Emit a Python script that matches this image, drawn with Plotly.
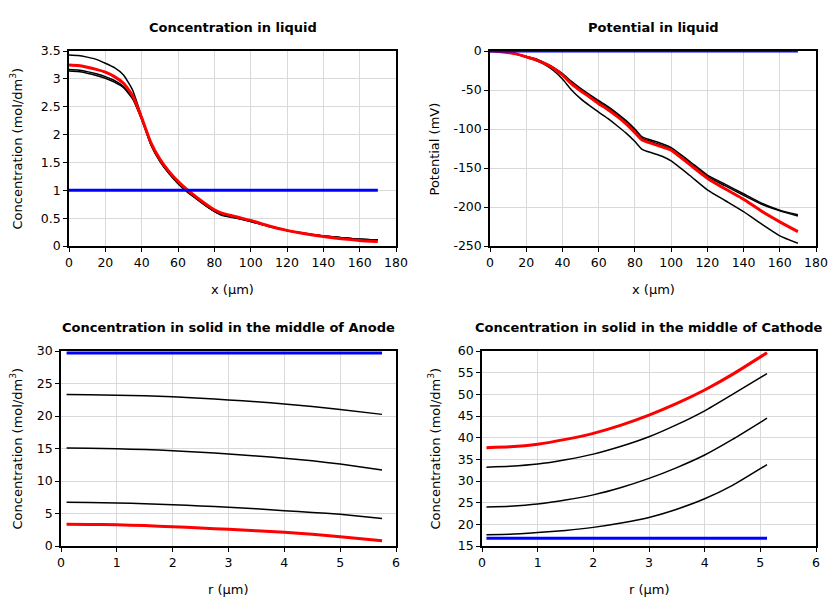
import plotly.graph_objects as go

# ---------------- data ----------------
x_liq = [0, 5, 10, 15, 20, 25, 30, 35, 40, 45, 50, 55, 60, 65, 70, 75, 80, 84, 90, 95, 100,
         110, 120, 130, 140, 150, 160, 170]

c_liq_t0 = [1.0] * len(x_liq)
c_liq_t1 = [3.17, 3.16, 3.13, 3.09, 3.04, 2.97, 2.86, 2.66, 2.28, 1.84, 1.54, 1.32, 1.14, 0.99,
            0.86, 0.74, 0.63, 0.57, 0.53, 0.49, 0.45, 0.36, 0.28, 0.23, 0.18, 0.15, 0.12, 0.11]
c_liq_t2 = [3.14, 3.13, 3.10, 3.06, 3.01, 2.94, 2.84, 2.64, 2.27, 1.83, 1.53, 1.31, 1.13, 0.98,
            0.85, 0.73, 0.62, 0.56, 0.52, 0.48, 0.44, 0.35, 0.28, 0.22, 0.18, 0.15, 0.12, 0.11]
c_liq_t3 = [3.43, 3.42, 3.39, 3.35, 3.28, 3.20, 3.07, 2.80, 2.32, 1.82, 1.52, 1.30, 1.12, 0.97,
            0.85, 0.73, 0.62, 0.55, 0.51, 0.48, 0.44, 0.35, 0.28, 0.22, 0.18, 0.15, 0.12, 0.11]
c_liq_end = [3.25, 3.24, 3.21, 3.17, 3.12, 3.04, 2.92, 2.70, 2.30, 1.86, 1.56, 1.34, 1.16, 1.01,
             0.88, 0.76, 0.65, 0.59, 0.54, 0.50, 0.46, 0.36, 0.28, 0.22, 0.17, 0.13, 0.10, 0.08]

p_liq_t0 = [0.0] * len(x_liq)
p_liq_t1 = [0, -0.5, -2, -4, -7, -10, -15, -21, -29, -39, -48, -56, -63.5, -71, -79.5, -89, -100,
            -110, -115, -119, -124, -141, -159, -171, -183, -195, -204, -210]
p_liq_t2 = [0, -0.5, -2, -4, -7, -10.5, -15.5, -22, -30, -40.5, -49.5, -57.5, -65.5, -73, -81.5,
            -91, -102, -112, -117, -121, -126, -143, -161, -173, -185, -196.5, -205, -211.5]
p_liq_t3 = [0, -0.5, -2, -4.5, -8, -12, -17, -25, -36, -50, -61, -70, -78.5, -86.5, -95.5, -105,
            -116, -126, -131, -135, -141, -159, -178, -192, -206, -222, -237, -246.5]
p_liq_end = [0, -0.5, -2, -4, -7.5, -11, -16, -22, -31, -42, -51, -59, -67.5, -75, -83.5, -93,
             -104.5, -114, -119, -123, -127, -145, -163, -177, -190, -205.5, -219, -231.5]

r_an = [0.1, 0.5, 1, 1.5, 2, 2.5, 3, 3.5, 4, 4.5, 5, 5.75]
c_an_t0 = [29.7] * len(r_an)
c_an_t1 = [23.3, 23.28, 23.2, 23.1, 22.97, 22.75, 22.46, 22.2, 21.85, 21.45, 21.0, 20.25]
c_an_t2 = [15.08, 15.05, 14.95, 14.83, 14.67, 14.43, 14.15, 13.85, 13.5, 13.1, 12.6, 11.7]
c_an_t3 = [6.72, 6.7, 6.62, 6.5, 6.36, 6.17, 5.95, 5.72, 5.44, 5.17, 4.87, 4.25]
c_an_end = [3.33, 3.32, 3.27, 3.14, 2.97, 2.78, 2.56, 2.34, 2.1, 1.8, 1.44, 0.82]

r_ca = [0.08, 0.5, 1, 1.5, 2, 2.5, 3, 3.5, 4, 4.5, 5.12]
c_ca_t0 = [16.8] * len(r_ca)
c_ca_t1 = [17.6, 17.7, 18.1, 18.6, 19.3, 20.3, 21.6, 23.5, 25.9, 29.0, 33.8]
c_ca_t2 = [24.0, 24.2, 24.7, 25.6, 26.8, 28.5, 30.6, 33.1, 36.0, 39.6, 44.5]
c_ca_t3 = [33.2, 33.4, 33.9, 34.9, 36.2, 38.0, 40.2, 43.0, 46.2, 50.0, 54.8]
c_ca_end = [37.7, 37.9, 38.5, 39.6, 41.0, 42.9, 45.2, 47.9, 51.0, 54.6, 59.6]

# tick values / labels
x_liq_ticks = [0, 20, 40, 60, 80, 100, 120, 140, 160, 180]
c_liq_ticks = [0, 0.5, 1, 1.5, 2, 2.5, 3, 3.5]
c_liq_ticklabels = ["0", "0.5", "1", "1.5", "2", "2.5", "3", "3.5"]
p_ticks = [-250, -200, -150, -100, -50, 0]
p_ticklabels = ["-250", "-200", "-150", "-100", "-50", "0"]
r_ticks = [0, 1, 2, 3, 4, 5, 6]
c_an_ticks = [0, 5, 10, 15, 20, 25, 30]
c_ca_ticks = [15, 20, 25, 30, 35, 40, 45, 50, 55, 60]

titles = ["Concentration in liquid", "Potential in liquid",
          "Concentration in solid in the middle of Anode",
          "Concentration in solid in the middle of Cathode"]
x_titles = ["x (µm)", "x (µm)", "r (µm)", "r (µm)"]
y_titles = ["Concentration (mol/dm<sup>3</sup>)", "Potential (mV)",
            "Concentration (mol/dm<sup>3</sup>)", "Concentration (mol/dm<sup>3</sup>)"]

# ---------------- figure ----------------
fig = go.Figure()
BLACK = "#000000"
RED = "#ff0000"
BLUE = "#0000ff"


def add_set(x, ys_black, y_red, y_blue, xa, ya):
    for yb in ys_black:
        fig.add_trace(go.Scatter(x=x, y=yb, mode="lines",
                                 line=dict(color=BLACK, width=1.5, shape="spline", smoothing=0.5),
                                 xaxis=xa, yaxis=ya, showlegend=False, hoverinfo="skip"))
    fig.add_trace(go.Scatter(x=x, y=y_red, mode="lines",
                             line=dict(color=RED, width=3, shape="spline", smoothing=0.5),
                             xaxis=xa, yaxis=ya, showlegend=False))
    fig.add_trace(go.Scatter(x=x, y=y_blue, mode="lines", line=dict(color=BLUE, width=3),
                             xaxis=xa, yaxis=ya, showlegend=False))


add_set(x_liq, [c_liq_t1, c_liq_t2, c_liq_t3], c_liq_end, c_liq_t0, "x", "y")
add_set(x_liq, [p_liq_t1, p_liq_t2, p_liq_t3], p_liq_end, p_liq_t0, "x2", "y2")
add_set(r_an, [c_an_t1, c_an_t2, c_an_t3], c_an_end, c_an_t0, "x3", "y3")
add_set(r_ca, [c_ca_t1, c_ca_t2, c_ca_t3], c_ca_end, c_ca_t0, "x4", "y4")

# page has an 8px body margin; figure is sized/positioned to compensate
OFF = 8
W, H = 840 - OFF, 600 - OFF
FONT = "DejaVu Sans"


def px_x(p):
    return (p - OFF) / W


def px_y(p):
    return 1 - (p - OFF) / H


def ax(domain, rng, tickvals, ticktext, anchor):
    return dict(domain=domain, range=rng, tickmode="array", tickvals=tickvals,
                ticktext=ticktext if ticktext else [str(v) for v in tickvals],
                anchor=anchor, automargin=False,
                showline=True, linecolor="black", linewidth=1.5, mirror=True,
                ticks="outside", ticklen=4, tickcolor="black", tickwidth=1,
                showgrid=True, gridcolor="#d9d9d9", gridwidth=1, zeroline=False,
                tickfont=dict(family=FONT, size=12.5, color="black"))


boxes = [(69, 396, 51, 246), (490, 816, 51, 246), (61, 396, 351, 546), (482, 816, 351, 546)]


def dom(b):
    l, r, t, bt = b
    return [px_x(l), px_x(r)], [px_y(bt), px_y(t)]


(dx1, dy1), (dx2, dy2), (dx3, dy3), (dx4, dy4) = [dom(b) for b in boxes]

fig.update_layout(
    width=W, height=H,
    margin=dict(l=0, r=0, t=0, b=0, autoexpand=False),
    paper_bgcolor="white", plot_bgcolor="white",
    font=dict(family=FONT, size=12, color="black"),
    xaxis=ax(dx1, [0, 180], x_liq_ticks, None, "y"),
    yaxis=ax(dy1, [0, 3.5], c_liq_ticks, c_liq_ticklabels, "x"),
    xaxis2=ax(dx2, [0, 180], x_liq_ticks, None, "y2"),
    yaxis2=ax(dy2, [-250, 0], p_ticks, p_ticklabels, "x2"),
    xaxis3=ax(dx3, [0, 6], r_ticks, None, "y3"),
    yaxis3=ax(dy3, [0, 30], c_an_ticks, None, "x3"),
    xaxis4=ax(dx4, [0, 6], r_ticks, None, "y4"),
    yaxis4=ax(dy4, [15, 60], c_ca_ticks, None, "x4"),
)

title_rows = [27, 27, 327, 327]
xtitle_rows = [289, 289, 589, 589]
ytitle_cols = [16, 434, 16, 434]
for i, b in enumerate(boxes):
    l, r, t, bt = b
    cx = (l + r) / 2
    cy = (t + bt) / 2
    fig.add_annotation(text="<b>" + titles[i] + "</b>", x=px_x(cx), y=px_y(title_rows[i]),
                       xref="paper", yref="paper", showarrow=False,
                       xanchor="center", yanchor="middle",
                       font=dict(family=FONT, size=13, color="black"))
    fig.add_annotation(text=x_titles[i], x=px_x(cx), y=px_y(xtitle_rows[i]),
                       xref="paper", yref="paper", showarrow=False,
                       xanchor="center", yanchor="middle",
                       font=dict(family=FONT, size=13, color="black"))
    fig.add_annotation(text=y_titles[i], x=px_x(ytitle_cols[i]), y=px_y(cy),
                       xref="paper", yref="paper", showarrow=False, textangle=-90,
                       xanchor="center", yanchor="middle",
                       font=dict(family=FONT, size=13, color="black"))

fig.write_html("out.html")
